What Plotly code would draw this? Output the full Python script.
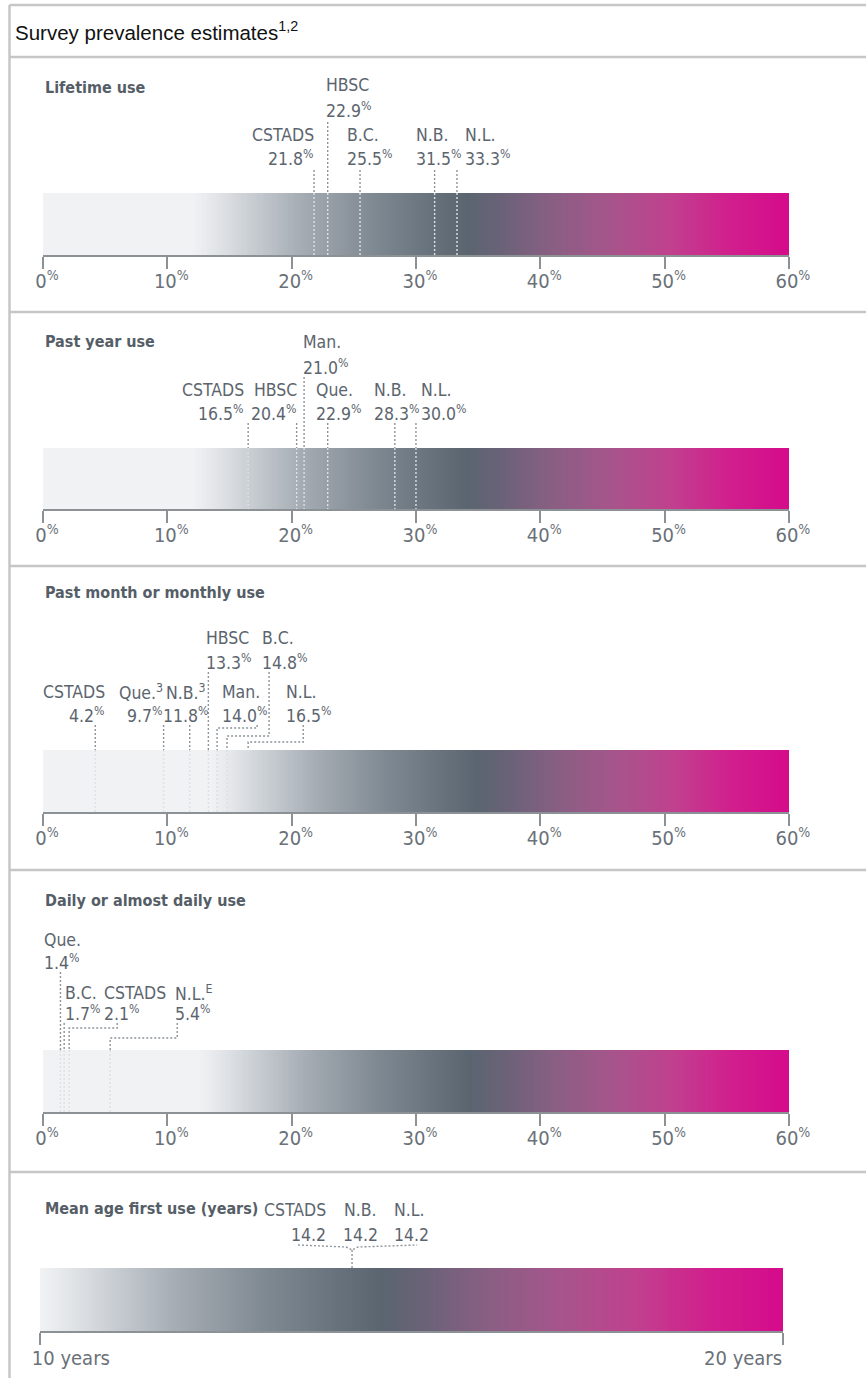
import numpy as np
import plotly.graph_objects as go

W, H = 866, 1378          # target picture size
FIG_W = 896               # figure width (the page capture is narrowed to W horizontally)
KX = FIG_W / W            # figure px per picture px, horizontally
X0 = 8                    # picture-x at which the figure starts

# ---------------- data ----------------
chart_title = "Survey prevalence estimates<sup>1,2</sup>"
panel_titles = ["Lifetime use", "Past year use", "Past month or monthly use",
                "Daily or almost daily use", "Mean age first use (years)"]

lifetime_labels = ["CSTADS", "HBSC", "B.C.", "N.B.", "N.L."]
lifetime_values = [21.8, 22.9, 25.5, 31.5, 33.3]

past_year_labels = ["CSTADS", "HBSC", "Man.", "Que.", "N.B.", "N.L."]
past_year_values = [16.5, 20.4, 21.0, 22.9, 28.3, 30.0]

past_month_labels = ["CSTADS", "Que.<sup>3</sup>", "N.B.<sup>3</sup>", "HBSC", "Man.", "B.C.", "N.L."]
past_month_values = [4.2, 9.7, 11.8, 13.3, 14.0, 14.8, 16.5]

daily_labels = ["Que.", "B.C.", "CSTADS", "N.L.<sup>E</sup>"]
daily_values = [1.4, 1.7, 2.1, 5.4]

age_labels = ["CSTADS", "N.B.", "N.L."]
age_values = [14.2, 14.2, 14.2]

pct_ticks = [0, 10, 20, 30, 40, 50, 60]
pct_tick_labels = ["0<sup>%</sup>", "10<sup>%</sup>", "20<sup>%</sup>", "30<sup>%</sup>",
                   "40<sup>%</sup>", "50<sup>%</sup>", "60<sup>%</sup>"]
age_ticks = [10, 20]
age_tick_labels = ["10 years", "20 years"]

# ---------------- style ----------------
NARROW = "DejaVu Sans Condensed, Liberation Sans Narrow, sans-serif"
LABEL_SIZE = 17.5
TITLE_SIZE = 16
TXT = "#5c656e"
TITLE_TXT = "#555e67"
TICK_TXT = "#6a7178"
AX = "#8c9196"
DOT = "#8d949a"
DOT_IN = "#dde0e4"
DASH = "2px,2px"
FRAME = "#c6c6c6"

RAMP = [[0.00, "#f1f2f4"], [0.04, "#e2e5e8"], [0.10, "#c8cdd2"], [0.18, "#a6adb4"],
        [0.30, "#808a93"], [0.40, "#67727c"], [0.46, "#5a6570"], [0.52, "#6b6278"],
        [0.60, "#885f83"], [0.70, "#a6558b"], [0.80, "#c0418e"], [0.90, "#d11f8d"],
        [1.00, "#d50b8b"]]

# panel geometry in picture pixels
GEOM = [
    dict(top=57, axis=256, bot=312, bar=63, title=87, rows=(85, 110, 135, 158), start=(122, 170), ramp0=12.0),
    dict(top=312, axis=510, bot=566, bar=62, title=342, rows=(342, 367, 390, 413), start=(377, 423), ramp0=12.0),
    dict(top=566, axis=813, bot=870, bar=63, title=592, rows=(638, 662, 692, 715), start=(672, 725), ramp0=13.5),
    dict(top=870, axis=1113, bot=1172, bar=63, title=900, rows=(940, 962, 993, 1013), start=(972, 1023), ramp0=12.5),
    dict(top=1172, axis=1332, bot=1378, bar=64, title=1208, rows=(1210, 1235, 1210, 1235), start=(1245, 1245), ramp0=10.0),
]

# label placement: (row, xanchor, dx px from value line, attach px from label anchor, elbow picture-y)
SPECS = [
    [(1, "right", 1, None, None), (0, "left", -3, None, None), (1, "left", -14, None, None),
     (1, "left", -19, None, None), (1, "left", 7, None, None)],
    [(1, "right", -3, None, None), (1, "right", 1, None, None), (0, "left", -2, None, None),
     (1, "left", -12, None, None), (1, "left", -21, None, None), (1, "left", 4, None, None)],
    [(1, "right", 10, None, None), (1, "right", 0, None, None), (1, "center", -4, None, None),
     (0, "left", -3, None, None), (1, "left", 4, 36, 728), (0, "left", 33, 9, 736),
     (1, "left", 36, 19, 742)],
    [(0, "left", -17, None, None), (1, "left", 0, None, None), (1, "left", 33, 15, 1028),
     (1, "left", 62, 5, 1038)],
    [(0, "right", -24, None, None), (0, "center", 8, None, None), (0, "left", 40, None, None)],
]

PANELS = [
    (lifetime_labels, lifetime_values),
    (past_year_labels, past_year_values),
    (past_month_labels, past_month_values),
    (daily_labels, daily_values),
    (age_labels, age_values),
]


def py(img_y):
    return 1 - img_y / H


def px(img_x):
    return (img_x - X0) / W


fig = go.Figure()
annotations = []
shapes = []
axes = {}

for i, (labels, values) in enumerate(PANELS):
    g = GEOM[i]
    n = i + 1
    sfx = "" if n == 1 else str(n)
    xname, yname = "x" + sfx, "y" + sfx
    is_age = i == 4
    lo, hi = (age_ticks[0], age_ticks[-1]) if is_age else (pct_ticks[0], pct_ticks[-1])
    d0, d1 = (40, 782) if is_age else (43, 788)
    ppu = (d1 - d0) / (hi - lo)

    def Y(img, g=g):
        return g["axis"] - img

    # gradient bar
    edges = np.linspace(lo, hi, 601)
    mids = (edges[:-1] + edges[1:]) / 2
    z = np.clip((mids - g["ramp0"]) / (hi - g["ramp0"]), 0, 1)
    fig.add_trace(go.Heatmap(x=edges, y=[0, g["bar"]], z=[z], colorscale=RAMP, zmin=0, zmax=1,
                             showscale=False, hoverinfo="skip", zsmooth=False,
                             xaxis=("x6" if is_age else xname), yaxis=yname))

    # labels and leader lines
    ox, oy, ix, iy = [], [], [], []
    for lab, v, sp in zip(labels, values, SPECS[i]):
        row, anc, dx, att, elb = sp
        val_txt = f"{v:.1f}" if is_age else f"{v:.1f}<sup>%</sup>"
        for txt, ry in ((lab, g["rows"][2 * row]), (val_txt, g["rows"][2 * row + 1])):
            annotations.append(dict(text=txt, x=v, y=Y(ry), xref=xname, yref=yname, xshift=dx * KX,
                                    xanchor=anc, yanchor="middle", showarrow=False, align=anc,
                                    borderpad=0,
                                    font=dict(family=NARROW, size=LABEL_SIZE, color=TXT)))
        if is_age:
            continue
        ys = Y(g["start"][row])
        if att is None:
            ox += [v, v, None]
            oy += [ys, g["bar"], None]
        else:
            ax_ = v + (dx + att) / ppu
            ye = Y(elb)
            ox += [ax_, ax_, v, v, None]
            oy += [ys, ye, ye, g["bar"], None]
        ix += [v, v, None]
        iy += [g["bar"], 0, None]

    if is_age:
        v = float(np.mean(values))
        left_end = v + (SPECS[4][0][2] - 30) / ppu
        right_end = v + (SPECS[4][2][2] + 25) / ppu
        ox += [left_end, v - 6 / ppu, v, v + 6 / ppu, right_end, None, v, v, None]
        oy += [Y(1245), Y(1247), Y(1250), Y(1247), Y(1245), None, Y(1250), g["bar"], None]
        ix += [v, v, None]
        iy += [g["bar"], 0, None]

    fig.add_trace(go.Scatter(x=ox, y=oy, mode="lines", xaxis=xname, yaxis=yname, hoverinfo="skip",
                             line=dict(color=DOT, width=1.4, dash=DASH)))
    fig.add_trace(go.Scatter(x=ix, y=iy, mode="lines", xaxis=xname, yaxis=yname, hoverinfo="skip",
                             line=dict(color=DOT_IN, width=1.4, dash=DASH)))

    # panel title
    annotations.append(dict(text=f"<b>{panel_titles[i]}</b>", x=px(44), y=Y(g["title"]), xref="paper",
                            yref=yname, xanchor="left", yanchor="middle", showarrow=False, borderpad=0,
                            font=dict(family=NARROW, size=TITLE_SIZE, color=TITLE_TXT)))

    common = dict(domain=[px(d0), px(d1)], range=[lo, hi], anchor="free", position=py(g["axis"]),
                  showgrid=False, zeroline=False, fixedrange=True, ticks="outside", ticklen=12,
                  tickwidth=1.5, tickcolor=AX)
    if is_age:
        axes["xaxis" + sfx] = dict(common, showline=True, linecolor=AX, linewidth=2,
                                   tickvals=age_ticks, ticktext=[age_tick_labels[0], ""],
                                   ticklabelposition="outside right", ticklabelstandoff=8,
                                   ticklabelshift=int(round(-10 * KX)),
                                   tickfont=dict(family=NARROW, size=20, color=TICK_TXT))
        axes["xaxis6"] = dict(common, overlaying="x5", showline=False, tickcolor="rgba(0,0,0,0)",
                              tickvals=age_ticks[-1:], ticktext=age_tick_labels[-1:],
                              ticklabelposition="outside left", ticklabelstandoff=8,
                              tickfont=dict(family=NARROW, size=20, color=TICK_TXT))
    else:
        axes["xaxis" + sfx] = dict(common, showline=True, linecolor=AX, linewidth=2,
                                   tickvals=pct_ticks, ticktext=pct_tick_labels,
                                   ticklabelshift=int(round(4 * KX)), ticklabelstandoff=-5,
                                   tickfont=dict(family=NARROW, size=20, color=TICK_TXT))
    axes["yaxis" + sfx] = dict(domain=[py(g["bot"]), py(g["top"])],
                               range=[-(g["bot"] - g["axis"]), g["axis"] - g["top"]],
                               visible=False, fixedrange=True)

# chart title
annotations.append(dict(text=chart_title, x=px(14), y=py(31), xref="paper", yref="paper",
                        xanchor="left", yanchor="middle", showarrow=False, borderpad=0,
                        font=dict(family="Liberation Sans, Arial, sans-serif", size=20.5, color="#111111")))

# frame and separators
FRAME_X = 9.5
shapes.append(dict(type="line", xref="paper", yref="paper", x0=px(FRAME_X), x1=1, y0=py(5), y1=py(5),
                   line=dict(color=FRAME, width=2.5)))
shapes.append(dict(type="line", xref="paper", yref="paper", x0=px(FRAME_X), x1=px(FRAME_X), y0=py(5), y1=0,
                   line=dict(color=FRAME, width=2.5)))
for sy in [57] + [g["bot"] for g in GEOM[:-1]]:
    shapes.append(dict(type="line", xref="paper", yref="paper", x0=px(FRAME_X), x1=1, y0=py(sy), y1=py(sy),
                       line=dict(color=FRAME, width=2.5)))

fig.update_layout(width=FIG_W, height=H, margin=dict(l=0, r=0, t=0, b=0), paper_bgcolor="white",
                  plot_bgcolor="white", showlegend=False, annotations=annotations, shapes=shapes,
                  autosize=False, **axes)

fig.write_html("out.html",
               config={"displayModeBar": False, "responsive": False},
               post_script="document.documentElement.style.overflow='hidden';"
                           "document.body.style.margin='0';document.body.style.overflow='hidden';")
